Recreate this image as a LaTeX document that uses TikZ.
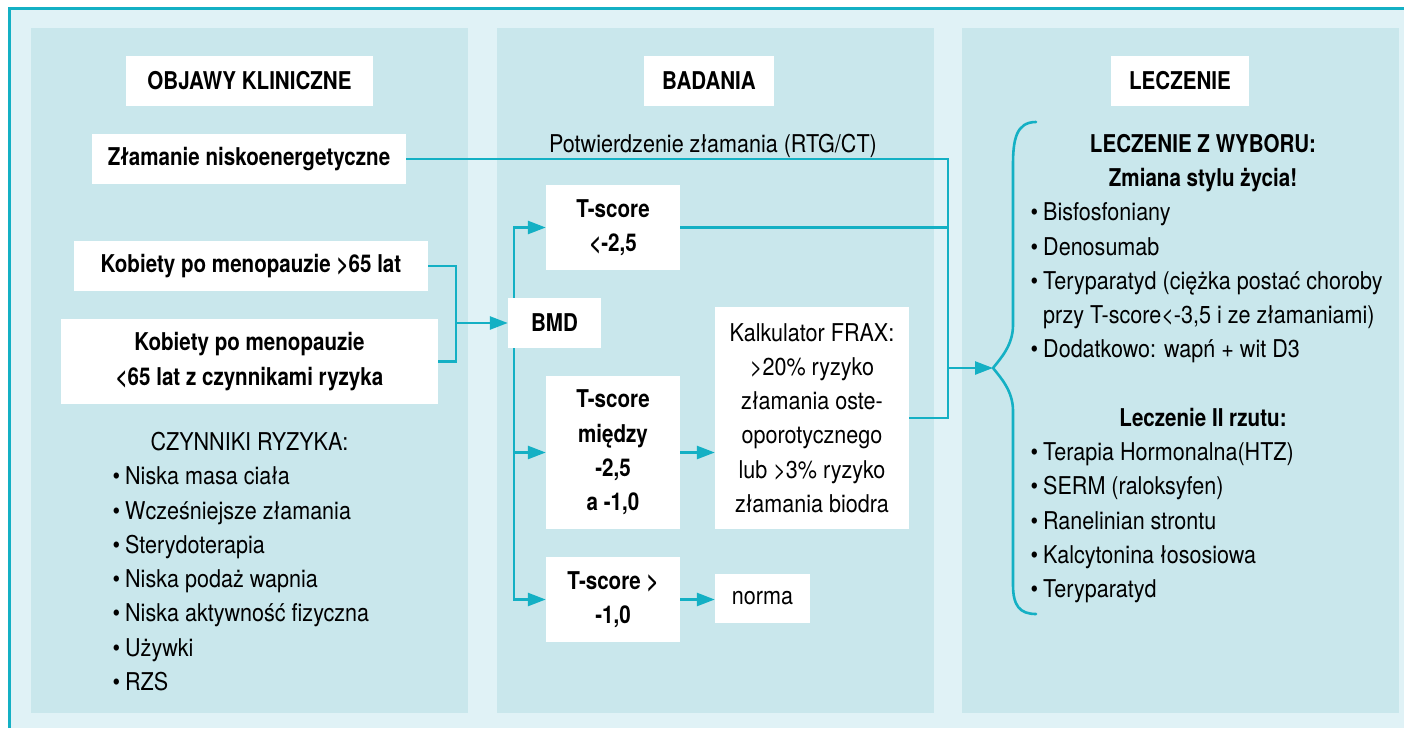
\documentclass[tikz,border=0pt]{standalone}
\usepackage{fontspec}
\setmainfont{TeX Gyre Heros}[FakeStretch=0.88, BoldFeatures={FakeStretch=0.84}]
\usetikzlibrary{arrows.meta}
\definecolor{framebg}{RGB}{224,242,246}
\definecolor{panelbg}{RGB}{201,231,236}
\definecolor{linkc}{RGB}{20,176,196}

\begin{document}
\begin{tikzpicture}[x=1pt,y=-1pt,
  txt/.style={font=\fontsize{24.5}{34.3}\selectfont, inner sep=0pt},
  box/.style={txt, fill=white, align=center},
  item/.style={txt, anchor=base west},
  head/.style={txt, anchor=base, font=\fontsize{24.5}{34.3}\selectfont\bfseries},
  link/.style={draw=linkc, line width=2.6pt, line join=miter},
  arr/.style={link, -{Triangle[length=18pt,width=13pt]}},
]
\newcommand{\bul}{\llap{\textbullet\hspace{5pt}}}
\useasboundingbox (0,0) rectangle (1404,728);

% frame and the three column panels
\fill[framebg] (8,7) rectangle (1404,728);
\draw[linkc, line width=3pt] (9.5,728) -- (9.5,8.2) -- (1404,8.2);
\fill[panelbg] (31,28) rectangle (468,712.7);
\fill[panelbg] (497,28) rectangle (934,712.7);
\fill[panelbg] (962,28) rectangle (1399,712.7);

% column headers
\node[box, minimum width=247pt, minimum height=50pt] (objawy) at (249.5,81) {\bfseries OBJAWY KLINICZNE};
\node[box, minimum width=130pt, minimum height=50pt] (badania) at (709,81) {\bfseries BADANIA};
\node[box, minimum width=138pt, minimum height=50pt] (leczenie) at (1180,81) {\bfseries LECZENIE};

% clinical presentation
\node[box, minimum width=314pt, minimum height=50pt] (zlam) at (249,159) {\bfseries Złamanie niskoenergetyczne};
\node[box, minimum width=354pt, minimum height=50pt] (kob65) at (251,266) {\bfseries Kobiety po menopauzie >65 lat};
\node[box, minimum width=377pt, minimum height=85pt] (kobrisk) at (249.5,361.5) {\bfseries Kobiety po menopauzie\\\bfseries <65 lat z czynnikami ryzyka};

\node[txt, anchor=base] (czyn) at (249.5,450) {CZYNNIKI RYZYKA:};
\node[item] (r1) at (125,484) {\bul Niska masa ciała};
\node[item] (r2) at (125,519) {\bul Wcześniejsze złamania};
\node[item] (r3) at (125,553) {\bul Sterydoterapia};
\node[item] (r4) at (125,587) {\bul Niska podaż wapnia};
\node[item] (r5) at (125,621) {\bul Niska aktywność fizyczna};
\node[item] (r6) at (125,656) {\bul Używki};
\node[item] (r7) at (125,690) {\bul RZS};

% diagnostics
\node[txt, anchor=base] (potw) at (713,152) {Potwierdzenie złamania (RTG/CT)};
\node[box, minimum width=93pt, minimum height=50pt] (bmd) at (554.5,323) {\bfseries BMD};
\node[box, minimum width=134pt, minimum height=85pt] (t1) at (613,227.5) {\bfseries T-score\\\bfseries <-2,5};
\node[box, minimum width=134pt, minimum height=153pt] (t2) at (613,452.5) {\bfseries T-score\\\bfseries między\\\bfseries -2,5\\\bfseries a -1,0};
\node[box, minimum width=134pt, minimum height=85pt] (t3) at (613,599.5) {\bfseries T-score >\\\bfseries -1,0};
\node[box, minimum width=194pt, minimum height=222pt] (frax) at (812,418) {Kalkulator FRAX:\\>20\% ryzyko\\złamania oste-\\oporotycznego\\lub >3\% ryzyko\\złamania biodra};
\node[box, minimum width=95pt, minimum height=49pt] (norma) at (762.5,598.5) {norma};

% treatment
\node[head] (lz1) at (1203,152) {LECZENIE Z WYBORU:};
\node[head] (lz2) at (1203,186) {Zmiana stylu życia!};
\node[item] (a1) at (1043,220) {\bul Bisfosfoniany};
\node[item] (a2) at (1043,255) {\bul Denosumab};
\node[item] (a3) at (1043,289) {\bul Teryparatyd (ciężka postać choroby};
\node[item] (a3b) at (1043,323) {przy T-score<-3,5 i ze złamaniami)};
\node[item] (a4) at (1043,357) {\bul Dodatkowo: wapń + wit D3};
\node[head] (l2) at (1203,426) {Leczenie II rzutu:};
\node[item] (b1) at (1043,460) {\bul Terapia Hormonalna(HTZ)};
\node[item] (b2) at (1043,494) {\bul SERM (raloksyfen)};
\node[item] (b3) at (1043,529) {\bul Ranelinian strontu};
\node[item] (b4) at (1043,563) {\bul Kalcytonina łososiowa};
\node[item] (b5) at (1043,597) {\bul Teryparatyd};

% junction points
\coordinate (M) at (456,323);
\coordinate (B) at (514,323);
\coordinate (J) at (948,368);
\coordinate (tip) at (993,368);

% connectors
\draw[link] (kob65.east) -| (M);
\draw[link] (kobrisk.east) -| (M);
\draw[arr] (M) -- (bmd.west);
\draw[arr] (bmd.north -| B) |- (t1.west);
\draw[arr] (bmd.south -| B) |- (t2.west);
\draw[arr] (bmd.south -| B) |- (t3.west);
\draw[arr] (t2.east) -- (t2.east -| frax.west);
\draw[arr] (t3.east) -- (t3.east -| norma.west);
\draw[link] (zlam.east) -| (J);
\draw[link] (t1.east) -- (t1.east -| J);
\draw[link] (frax.east) -| (J);
\draw[arr] (J) -- (tip);

% brace around the treatment list
\draw[link, line cap=round] (1036,122) .. controls (1016,122) and (1013,140) .. (1013,165)
  -- (1013,325) .. controls (1013,345) and (1001,358) .. (tip)
  .. controls (1001,378) and (1013,391) .. (1013,411)
  -- (1013,585) .. controls (1013,606) and (1020,614) .. (1036,614);
\end{tikzpicture}
\end{document}
